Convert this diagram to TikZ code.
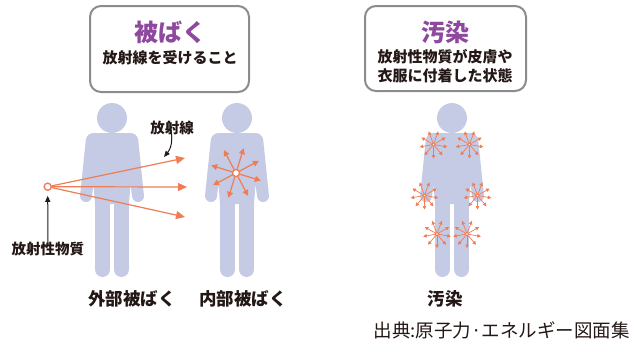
\documentclass[tikz,border=0pt]{standalone}
\usepackage{fontspec}
\setmainfont{Noto Sans CJK JP}
\usetikzlibrary{arrows.meta}

\definecolor{hada}{RGB}{197,203,229}
\definecolor{daidai}{RGB}{238,124,84}
\definecolor{murasaki}{RGB}{142,72,158}
\definecolor{waku}{RGB}{140,140,140}
\definecolor{sumi}{RGB}{35,24,21}

\tikzset{
  waku/.style={draw=waku,line width=2,rounded corners=11},
  midashi/.style={text=murasaki,font=\fontsize{24}{28}\selectfont\bfseries,inner sep=0},
  setsumei/.style={text=sumi,font=\fontsize{15}{19}\selectfont\bfseries,inner sep=0,align=center},
  namae/.style={text=sumi,font=\fontsize{17.5}{20}\selectfont\bfseries,inner sep=0},
  gen/.style={circle,draw=daidai,fill=white,line width=1.2,inner sep=0,minimum size=7},
  kogen/.style={circle,draw=daidai,fill=white,line width=0.8,inner sep=0,minimum size=3.5},
  sen/.style={draw=daidai,line width=1.2,-{Triangle[length=9,width=8]}},
  hoshi/.style={draw=daidai,line width=1.2,-{Triangle[length=6,width=6]}},
  kohoshi/.style={draw=daidai,line width=0.7,-{Triangle[length=3.5,width=3.5]}},
  yaji/.style={draw=sumi,line width=1,-{Triangle[length=6,width=5]}}
}

% 人の形 (頭の中心のx)
\newcommand{\hito}[1]{%
  \begin{scope}[shift={(#1,118)}]
    \fill[hada] (0,0) circle[radius=15];
    \fill[hada] (-32,78) [rounded corners=7] -- (-25.5,15) -- (25.5,15) [sharp corners] -- (32,78)
      arc[start angle=0,end angle=180,radius=6] -- (18.5,66) -- (17,86) -- (-17,86) -- (-18.5,66) -- (-20,78)
      arc[start angle=0,end angle=180,radius=6] -- cycle;
    \draw[hada,line width=15,line cap=round] (-9.5,84) -- (-9.5,151.5) (9.5,84) -- (9.5,151.5);
  \end{scope}}

% 小さな放射
\newcommand{\kohoshi}[3]{%
  \node[kogen] (#1) at (#2,#3) {};
  \foreach \a in {10,50,...,330} \draw[kohoshi] (#1) -- ++(\a:14);
  \node[kogen] at (#1) {};}

\begin{document}
\begin{tikzpicture}[x=1pt,y=-1pt]
  \useasboundingbox (0,0) rectangle (632,346);

  % 枠
  \draw[waku] (90,6) rectangle (249,92);
  \draw[waku] (365,6) rectangle (526,91);
  \node[midashi] (hibaku) at (170,32) {被ばく};
  \node[setsumei] (hibakusetsu) at (170,58) {放射線を受けること};
  \node[midashi] (osen) at (445,32) {汚染};
  \node[setsumei] (osensetsu) at (445,66.5) {放射性物質が皮膚や\\衣服に付着した状態};

  % 人
  \hito{112}
  \hito{237}
  \hito{452}

  % 外部被ばく
  \node[gen] (soto) at (47.7,186.7) {};
  \coordinate (r1) at (185,158);
  \coordinate (r2) at (187,187);
  \coordinate (r3) at (185,217);
  \foreach \r in {r1,r2,r3} \draw[sen] (soto) -- (\r);
  \node[gen] at (soto) {};
  \node[namae,font=\fontsize{14.5}{16}\selectfont\bfseries] (busshitsu) at (48,249) {放射性物質};
  \draw[yaji] ([yshift=-4]busshitsu.north) -- ([yshift=-5]soto.south);
  \node[namae,font=\fontsize{14.5}{16}\selectfont\bfseries] (hoshasen) at (172,128) {放射線};
  \coordinate (hs) at (164,157);
  \draw[yaji] ([xshift=-1,yshift=5]hoshasen.south) to[bend left=25] (hs);

  % 内部被ばく
  \node[gen] (naka) at (236,173) {};
  \foreach \a in {-28,-73,...,-343} \draw[hoshi] (naka) -- ++(\a:26);
  \node[gen] at (naka) {};

  % 汚染
  \kohoshi{k1}{433.5}{144.5}
  \kohoshi{k2}{469.5}{144.5}
  \kohoshi{k3}{424.5}{195.5}
  \kohoshi{k4}{477.5}{195.5}
  \kohoshi{k5}{437}{234}
  \kohoshi{k6}{467}{234}

  % 名前
  \node[namae] (gaibu) at (132,299) {外部被ばく};
  \node[namae] (naibu) at (243,299) {内部被ばく};
  \node[namae] (osenmei) at (445,299) {汚染};
  \node[namae,font=\fontsize{18.5}{20}\selectfont,anchor=east] (shutten) at (630,330) {出典:原子力·エネルギー図面集};
\end{tikzpicture}
\end{document}
